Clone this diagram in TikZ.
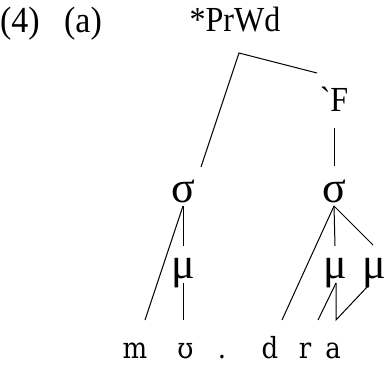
\documentclass[tikz,border=0pt]{standalone}
\usepackage{fontspec}
\setmainfont{Liberation Serif}
\newfontfamily\ipa{DejaVu Serif}
\begin{document}
\begin{tikzpicture}[x=1pt,y=-1pt,
  lbl/.style={font=\fontsize{32}{32}\selectfont, anchor=base, inner sep=0pt},
  grk/.style={font=\fontsize{44}{44}\selectfont, inner sep=0pt},
  seg/.style={font=\ipa\fontsize{26}{26}\selectfont, anchor=base, inner sep=0pt},
  br/.style={line width=1pt}]
\useasboundingbox (0,0) rectangle (390,365);
% labels
\node[lbl, font=\fontsize{34}{34}\selectfont] (num) at (20,32) {\scalebox{1}[1.08]{(4)}};
\node[lbl, font=\fontsize{34}{34}\selectfont] (ex) at (83,32) {\scalebox{1}[1.08]{(a)}};
\node[lbl] (prwd) at (235,31) {\scalebox{1}[1.1]{*PrWd}};
\node[lbl] (ft) at (334,111) {\scalebox{1}[1.1]{\textasciigrave F}};
\node[grk] (sigL) at (183,191) {σ};
\node[grk] (sigR) at (334,191) {σ};
\node[grk] (muL) at (183,273) {μ};
\node[grk] (muR1) at (335,273) {μ};
\node[grk] (muR2) at (374,273) {μ};
\node[seg] (m) at (135,358) {\scalebox{1}[1.12]{m}};
\node[seg] (u) at (185.5,358) {\scalebox{1}[1.12]{ʊ}};
\node[seg] (dot) at (222,358) {\scalebox{1}[1.12]{.}};
\node[seg] (d) at (270,358) {\scalebox{1}[1.12]{d}};
\node[seg] (r) at (305,358) {\scalebox{1}[1.12]{r}};
\node[seg] (a) at (333,358) {\scalebox{1}[1.12]{a}};
% attachment points
\coordinate (apex) at (239,53);
\coordinate (prwdF) at (317,73);
\coordinate (prwdS) at (201,167);
\coordinate (fBot) at (334,128);
\coordinate (fEnd) at (334,166);
\coordinate (sLt) at (183,206);
\coordinate (sRt) at (334,206);
\coordinate (muLtop) at (183,246);
\coordinate (muLbot) at (183,283);
\coordinate (mTop) at (145,320);
\coordinate (uTop) at (183,320);
\coordinate (dTop) at (282,320);
\coordinate (mu1top) at (335,246);
\coordinate (mu2top) at (373,245);
\coordinate (mu1bot) at (336,283);
\coordinate (mu2bot) at (368,286);
\coordinate (rTop) at (318,320);
\coordinate (aTop) at (336,320);
% branches
\draw[br] (prwdS) -- (apex) -- (prwdF);
\draw[br] (fBot) -- (fEnd);
\draw[br] (sLt) -- (muLtop);
\draw[br] (sLt) -- (mTop);
\draw[br] (muLbot) -- (uTop);
\draw[br] (sRt) -- (dTop);
\draw[br] (sRt) -- (mu1top);
\draw[br] (sRt) -- (mu2top);
\draw[br] (mu1bot) -- (rTop);
\draw[br] (mu1bot) -- (aTop) -- (mu2bot);
\end{tikzpicture}
\end{document}
